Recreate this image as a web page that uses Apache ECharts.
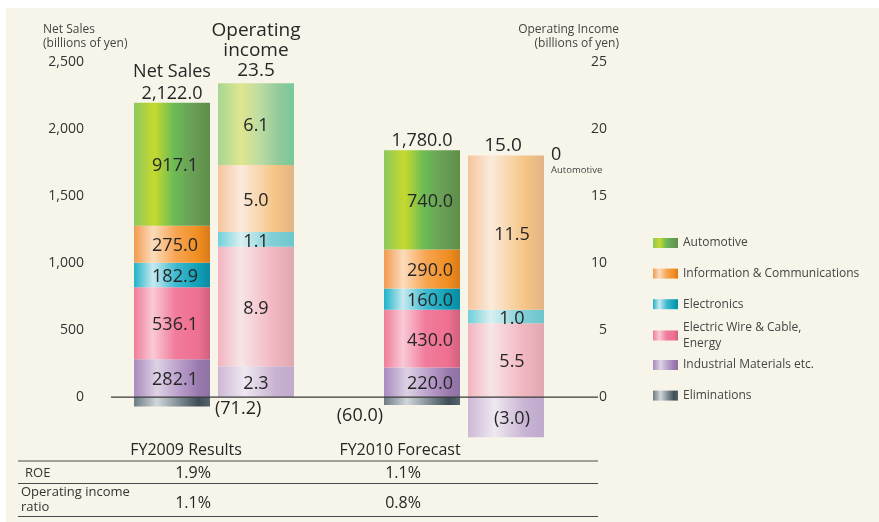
<!DOCTYPE html>
<html>
<head>
<meta charset="utf-8">
<script src="https://cdn.jsdelivr.net/npm/echarts@6/dist/echarts.min.js"></script>
<style>
  html, body { margin: 0; padding: 0; background: #fff; }
  #chart { width: 879px; height: 522px; }
</style>
</head>
<body>
<div id="chart"></div>
<script>
const years = ['FY2009', 'FY2010'];

// net sales (billions of yen)
const salesIndustrial = [282.1, 220.0];
const salesWire = [536.1, 430.0];
const salesElectronics = [182.9, 160.0];
const salesInfo = [275.0, 290.0];
const salesAuto = [917.1, 740.0];
const salesElim = [-71.2, -60.0];
const salesTotal = [2122.0, 1780.0];
const salesHeader = ['Net Sales', ''];

// operating income (billions of yen)
const oiIndustrial = [2.3, -3.0];
const oiWire = [8.9, 5.5];
const oiElectronics = [1.1, 1.0];
const oiInfo = [5.0, 11.5];
const oiAuto = [6.1, 0];
const oiTotal = [23.5, 15.0];
const oiHeader = ['Operating\nincome', ''];

// table under the chart
const tableCols = ['FY2009 Results', 'FY2010 Forecast'];
const rowNames = ['ROE', 'Operating income\nratio'];
const roe = ['1.9%', '1.1%'];
const oiRatio = ['1.1%', '0.8%'];

const FONT = '"Open Sans", "Noto Sans", sans-serif';
const TXT = '#262626';
const WEIGHT = 500;

const grad = (stops) => new echarts.graphic.LinearGradient(0, 0, 1, 0,
    stops.map(s => ({ offset: s[0], color: s[1] })));

// colours: strong ones for net sales, pale ones for operating income
const colSales = {
    auto: [[0, '#8ec85e'], [0.27, '#c6d92d'], [0.52, '#6cbc55'], [0.75, '#6aa057'], [1, '#5e8e48']],
    info: [[0, '#f29a50'], [0.25, '#fcdcbc'], [0.55, '#f7a552'], [0.85, '#f08d1f'], [1, '#d67a1a']],
    elec: [[0, '#1eb3c8'], [0.25, '#c6eaf0'], [0.55, '#3ebad0'], [0.85, '#0e9fb6'], [1, '#0b8aa0']],
    wire: [[0, '#f07c98'], [0.25, '#f9c9d6'], [0.55, '#f17a9a'], [0.85, '#ee7090'], [1, '#cf5f7e']],
    ind: [[0, '#a98abe'], [0.3, '#ddd2e4'], [0.6, '#b89ecb'], [0.85, '#9a7aae'], [1, '#8e72a4']],
    elim: [[0, '#6d7b84'], [0.3, '#d1d6d9'], [0.6, '#7d8a92'], [0.85, '#3f4d56'], [1, '#56646c']]
};
const colOi = {
    auto: [[0, '#a6d693'], [0.3, '#dfe68e'], [0.55, '#bcdca3'], [0.8, '#93c99a'], [1, '#76c99b']],
    info: [[0, '#f6c49e'], [0.3, '#fbeadb'], [0.75, '#f5c585'], [1, '#e2b486']],
    elec: [[0, '#70cfd8'], [0.3, '#d9f0f1'], [0.7, '#82d0d6'], [1, '#6ec5cd']],
    wire: [[0, '#f2b4c0'], [0.3, '#f7e4e7'], [0.7, '#f3b9c3'], [1, '#dea8b0']],
    ind: [[0, '#cdb8d6'], [0.35, '#eee8f0'], [0.75, '#c9b3d3'], [1, '#c0aacd']]
};

const fmt = v => v < 0 ? '(' + (-v).toFixed(1) + ')' : v.toFixed(1);
const fmtK = v => v.toLocaleString('en-US', { minimumFractionDigits: 1, maximumFractionDigits: 1 });

const baseLabel = { show: true, position: 'inside', fontSize: 18, fontWeight: WEIGHT, color: TXT, fontFamily: FONT };

function seg(name, data, axis, colors, offs) {
    return {
        name: name,
        type: 'bar',
        stack: axis ? 'oi' : 'sales',
        yAxisIndex: axis,
        barWidth: 76,
        barGap: '10.5%',
        itemStyle: { color: grad(colors) },
        label: Object.assign({}, baseLabel, { formatter: p => fmt(p.value) }),
        data: data.map((v, i) => ({ value: v, label: { offset: offs[i] } }))
    };
}

// zero-height bar on top of a stack, only there to carry the total label
function total(name, axis, totals, headers, fontSize, lineHeight) {
    return {
        name: name, type: 'bar', stack: axis ? 'oi' : 'sales', yAxisIndex: axis, barWidth: 76, barGap: '10.5%',
        itemStyle: { color: 'transparent' },
        label: { show: true, position: 'top', distance: 3, fontSize: fontSize, fontWeight: WEIGHT, lineHeight: lineHeight,
            color: TXT, fontFamily: FONT,
            formatter: p => (headers[p.dataIndex] ? headers[p.dataIndex] + '\n' : '') + fmtK(totals[p.dataIndex]) },
        data: totals.map(() => ({ value: 0 }))
    };
}

const salesOffs = [[3, 2], [8, 2]];
const oiOffs = [[0, 2], [6, 2]];

const sElim = seg('Eliminations', salesElim, 0, colSales.elim, salesOffs);
const sTotal = total('salesTotal', 0, salesTotal, salesHeader, 18, 22);
const oAuto = seg('Automotive', oiAuto, 1, colOi.auto, oiOffs);
const oTotal = total('oiTotal', 1, oiTotal, oiHeader, 19, 20);

// eliminations labels sit beside the bar, below the axis
sElim.data[0].label = { position: 'right', distance: 5, offset: [0, 7] };
sElim.data[1].label = { position: 'left', distance: 1, offset: [0, 15] };
sTotal.label.distance = -2;
oTotal.data[1].label = { offset: [-3, 0], distance: 0 };
// zero automotive operating income in FY2010
oAuto.data[1].label = {
    position: [83, -10], align: 'left', verticalAlign: 'top',
    formatter: () => '{a|' + oiAuto[1] + '}\n{b|Automotive}',
    rich: {
        a: { fontSize: 18, fontWeight: WEIGHT, lineHeight: 18, color: TXT, fontFamily: FONT },
        b: { fontSize: 9.5, lineHeight: 13, color: '#444', fontFamily: FONT }
    }
};

const series = [
    seg('Industrial Materials etc.', salesIndustrial, 0, colSales.ind, salesOffs),
    seg('Electric Wire & Cable, Energy', salesWire, 0, colSales.wire, salesOffs),
    seg('Electronics', salesElectronics, 0, colSales.elec, salesOffs),
    seg('Information & Communications', salesInfo, 0, colSales.info, salesOffs),
    seg('Automotive', salesAuto, 0, colSales.auto, salesOffs),
    sTotal,
    sElim,
    seg('Industrial Materials etc.', oiIndustrial, 1, colOi.ind, oiOffs),
    seg('Electric Wire & Cable, Energy', oiWire, 1, colOi.wire, oiOffs),
    seg('Electronics', oiElectronics, 1, colOi.elec, oiOffs),
    seg('Information & Communications', oiInfo, 1, colOi.info, oiOffs),
    oAuto,
    oTotal
];

const legendText = { fontSize: 12, lineHeight: 16, color: '#444', fontFamily: FONT };
const legendBase = { orient: 'vertical', left: 653, padding: 0, itemWidth: 25, itemHeight: 10, itemGap: 14.6,
    icon: 'rect', textStyle: legendText, selectedMode: false };

const option = {
    backgroundColor: '#f7f5e9',
    animation: false,
    title: [
        { text: 'Net Sales\n(billions of yen)', left: 43, top: 22.5, padding: 0,
          textStyle: { fontSize: 12, lineHeight: 14, fontWeight: 'normal', color: '#444', fontFamily: FONT } }
    ],
    legend: [
        Object.assign({}, legendBase, { top: 235, data: ['Automotive', 'Information & Communications', 'Electronics'] }),
        Object.assign({}, legendBase, { top: 319.5, data: ['Electric Wire & Cable, Energy'],
            formatter: () => 'Electric Wire & Cable,\nEnergy' }),
        Object.assign({}, legendBase, { top: 357, data: ['Industrial Materials etc.', 'Eliminations'] })
    ],
    grid: { left: 89, right: 290, top: 61.7, bottom: 57.9 },
    xAxis: {
        type: 'category', data: years,
        axisLine: { show: false }, axisTick: { show: false }, axisLabel: { show: false }
    },
    yAxis: [
        {
            type: 'value', min: -500, max: 2500, interval: 500,
            axisLine: { show: false }, axisTick: { show: false }, splitLine: { show: false },
            axisLabel: { fontSize: 14, color: '#333', fontFamily: FONT, margin: 5,
                formatter: v => v < 0 ? '' : v.toLocaleString('en-US') }
        },
        {
            type: 'value', min: -5, max: 25, interval: 5, position: 'right',
            axisLine: { show: false }, axisTick: { show: false }, splitLine: { show: false },
            axisLabel: { fontSize: 14, color: '#333', fontFamily: FONT, margin: 18, align: 'right',
                formatter: v => v < 0 ? '' : String(v) }
        }
    ],
    series: series
};

const chart = echarts.init(document.getElementById('chart'), null, { renderer: 'canvas' });
chart.setOption(option);

// zero line, white frame, right axis name and the small table below the chart
const y0 = chart.convertToPixel({ yAxisIndex: 0 }, 0);
const colX = [186, 400];
const valX = [193, 403];
const cell = { fontSize: 16, fontWeight: WEIGHT, fill: TXT, fontFamily: FONT, align: 'center', verticalAlign: 'middle' };
const graphic = [
    { type: 'rect', shape: { x: 0, y: 0, width: 879, height: 8 }, style: { fill: '#fff' }, silent: true },
    { type: 'rect', shape: { x: 0, y: 0, width: 6, height: 522 }, style: { fill: '#fff' }, silent: true },
    { type: 'line', z: 100, shape: { x1: 111, y1: y0, x2: 598, y2: y0 }, style: { stroke: '#3a3a3a', lineWidth: 1.3 } },
    { type: 'text', x: 619, y: 22.5,
      style: { text: 'Operating Income\n(billions of yen)', fontSize: 12, lineHeight: 14, fill: '#444', fontFamily: FONT,
               align: 'right', verticalAlign: 'top' } },
    { type: 'line', shape: { x1: 18, y1: 461, x2: 598, y2: 461 }, style: { stroke: '#4a4a4a', lineWidth: 1.2 } },
    { type: 'line', shape: { x1: 18, y1: 483.5, x2: 598, y2: 483.5 }, style: { stroke: '#4a4a4a', lineWidth: 1.2 } },
    { type: 'line', shape: { x1: 18, y1: 516.5, x2: 598, y2: 516.5 }, style: { stroke: '#4a4a4a', lineWidth: 1.2 } }
];
tableCols.forEach((t, i) => graphic.push({ type: 'text', x: colX[i], y: 450,
    style: Object.assign({ text: t }, cell) }));
graphic.push({ type: 'text', x: 25, y: 473,
    style: { text: rowNames[0], fontSize: 13, fill: '#333', fontFamily: FONT, verticalAlign: 'middle' } });
graphic.push({ type: 'text', x: 21, y: 500,
    style: { text: rowNames[1], fontSize: 13, lineHeight: 15, fill: '#333', fontFamily: FONT, verticalAlign: 'middle' } });
roe.forEach((t, i) => graphic.push({ type: 'text', x: valX[i], y: 473,
    style: Object.assign({ text: t }, cell) }));
oiRatio.forEach((t, i) => graphic.push({ type: 'text', x: valX[i], y: 503,
    style: Object.assign({ text: t }, cell) }));
chart.setOption({ graphic: graphic });
</script>
</body>
</html>
